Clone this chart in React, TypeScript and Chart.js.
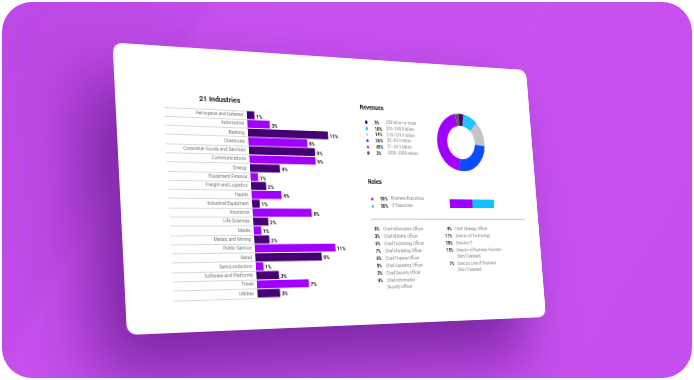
import React, { useEffect, useRef } from "react";
import { Chart, registerables } from "chart.js";
Chart.register(...registerables);

// ---------- data ----------
const industries = [
  "Aerospace and Defense", "Automotive", "Banking", "Chemicals",
  "Consumer Goods and Services", "Communications", "Energy", "Equipment Finance",
  "Freight and Logistics", "Health", "Industrial Equipment", "Insurance",
  "Life Sciences", "Media", "Metals and Mining", "Public Service", "Retail",
  "Semiconductors", "Software and Platforms", "Travel", "Utilities",
];
const industryShares = [1, 3, 11, 8, 9, 9, 4, 1, 2, 4, 1, 8, 2, 1, 2, 11, 9, 1, 3, 7, 3];

const revenueLabels = [
  "$50 billion or more", "$20–$49.9 billion", "$10–$19.9 billion",
  "$5–$9.9 billion", "$1–$4.9 billion", "$250–$999 million",
];
const revenueShares = [3, 10, 14, 26, 45, 3];

const roleLabels = ["Business Executives", "IT Executives"];
const roleShares = [50, 50];

const leftTitles = [
  "Chief Information Officer", "Chief Mobility Officer", "Chief Technology Officer",
  "Chief Marketing Officer", "Chief Finance Officer", "Chief Operating Officer",
  "Chief Security Officer", "Chief Information\nSecurity Officer",
];
const leftTitleShares = [8, 3, 6, 7, 6, 5, 3, 4];
const rightTitles = [
  "Chief Strategy Officer", "Director of Technology", "Director, IT",
  "Director of Business Function\n(Non IT-related)", "Director, Line of Business\n(Non IT-related)",
];
const rightTitleShares = [4, 11, 18, 15, 7];

// ---------- style ----------
const DARK = "#460073";
const BRIGHT = "#a100ff";
const revenueColors = ["#460073", "#1ec3ff", "#c4c4c4", "#0a4dff", "#a100ff", "#5a5a5a"];
const roleColors = ["#a100ff", "#10c0ff"];
const FONT = "Roboto, 'Liberation Sans', sans-serif";

const CARD_W = 520;
const CARD_H = 290;
// card corners (relative to purple panel): TL, TR, BR, BL
const CORNERS: number[][] = [[110.5, 40.5], [524, 68], [544, 315], [125, 333]];

function quadMatrix(W: number, H: number, p: number[][]) {
  const [x0, y0] = p[0], [x1, y1] = p[1], [x2, y2] = p[2], [x3, y3] = p[3];
  const dx1 = x1 - x2, dx2 = x3 - x2, dy1 = y1 - y2, dy2 = y3 - y2;
  const sx = x0 - x1 + x2 - x3, sy = y0 - y1 + y2 - y3;
  const det = dx1 * dy2 - dx2 * dy1;
  const g = (sx * dy2 - dx2 * sy) / det;
  const h = (dx1 * sy - sx * dy1) / det;
  const a = x1 - x0 + g * x1, b = x3 - x0 + h * x3, c = x0;
  const d = y1 - y0 + g * y1, e = y3 - y0 + h * y3, f = y0;
  return `matrix3d(${a / W},${d / W},0,${g / W},${b / H},${e / H},0,${h / H},0,0,1,0,${c},${f},0,1)`;
}

const valueLabelPlugin = {
  id: "valueLabels",
  afterDatasetsDraw(chart: any) {
    const { ctx } = chart;
    const meta = chart.getDatasetMeta(0);
    ctx.save();
    ctx.font = `bold 5.6px ${FONT}`;
    ctx.fillStyle = "#111";
    ctx.textBaseline = "middle";
    meta.data.forEach((bar: any, i: number) => {
      ctx.fillText(chart.data.datasets[0].data[i] + "%", bar.x + 2, bar.y + 1.5);
    });
    ctx.restore();
  },
};

const Txt = (p: { x: number; y: number; s: number; w?: number; c?: string; t: string; align?: any; lh?: number; width?: number }) => (
  <div
    style={{
      position: "absolute",
      left: p.align === "right" ? p.x - (p.width || 20) : p.x,
      top: p.y - (p.lh || p.s * 1.3) / 2,
      width: p.align === "right" ? p.width || 20 : undefined,
      textAlign: p.align || "left",
      fontFamily: FONT,
      fontSize: p.s,
      fontWeight: p.w || 400,
      color: p.c || "#111",
      lineHeight: `${p.lh || p.s * 1.3}px`,
      whiteSpace: "pre",
    }}
  >
    {p.t}
  </div>
);

export default function App() {
  const barRef = useRef<HTMLCanvasElement>(null);
  const donutRef = useRef<HTMLCanvasElement>(null);
  const roleRef = useRef<HTMLCanvasElement>(null);

  useEffect(() => {
    const charts: Chart[] = [];
    charts.push(
      new Chart(barRef.current!, {
        type: "bar",
        data: {
          labels: industries,
          datasets: [
            {
              data: industryShares,
              backgroundColor: industryShares.map((_, i) => (i % 2 === 0 ? DARK : BRIGHT)),
              barPercentage: 0.9,
              categoryPercentage: 1,
              borderWidth: 0,
            },
          ],
        },
        options: {
          indexAxis: "y",
          animation: false,
          responsive: false,
          events: [],
          layout: { padding: { top: 2, bottom: 2, left: 0, right: 0 } },
          plugins: { legend: { display: false }, tooltip: { enabled: false } },
          scales: {
            x: { display: false, min: 0, max: 15 },
            y: {
              afterFit: (s: any) => {
                s.width = 94;
              },
              grid: { drawOnChartArea: false, drawTicks: true, tickLength: 94, color: "#cfcfcf", lineWidth: 0.8, offset: true },
              border: { display: false },
              ticks: { padding: -90, autoSkip: false, font: { size: 5.2, family: FONT }, color: "#777" },
            },
          },
        } as any,
        plugins: [valueLabelPlugin],
      })
    );
    charts.push(
      new Chart(donutRef.current!, {
        type: "doughnut",
        data: {
          labels: revenueLabels,
          datasets: [{ data: revenueShares, backgroundColor: revenueColors, borderWidth: 0 }],
        },
        options: {
          animation: false,
          responsive: false,
          events: [],
          cutout: "58%",
          layout: { padding: 0 },
          plugins: { legend: { display: false }, tooltip: { enabled: false } },
        } as any,
      })
    );
    charts.push(
      new Chart(roleRef.current!, {
        type: "bar",
        data: {
          labels: ["Roles"],
          datasets: roleShares.map((v, i) => ({
            label: roleLabels[i],
            data: [v],
            backgroundColor: roleColors[i],
            barPercentage: 1,
            categoryPercentage: 1,
            borderWidth: 0,
          })),
        },
        options: {
          indexAxis: "y",
          animation: false,
          responsive: false,
          events: [],
          layout: { padding: 0 },
          scales: {
            x: { display: false, stacked: true, min: 0, max: 100 },
            y: { display: false, stacked: true },
          },
          plugins: { legend: { display: false }, tooltip: { enabled: false } },
        } as any,
      })
    );
    return () => charts.forEach((c) => c.destroy());
  }, []);

  const legendTop = 70;
  const legendStep = 6.85;
  let rightY = 187.6;
  const rightRows = rightTitles.map((t, i) => {
    const y = rightY;
    rightY += t.split("\n").length * 7 + 1.06;
    return { t, y, v: rightTitleShares[i] };
  });
  let leftY = 187.3;
  const leftRows = leftTitles.map((t, i) => {
    const y = leftY;
    leftY += t.split("\n").length * 7 + 1.06;
    return { t, y, v: leftTitleShares[i] };
  });

  return (
    <div style={{ position: "fixed", left: 0, top: 0, width: 694, height: 380, background: "#fff", overflow: "hidden" }}>
      <div
        style={{
          position: "absolute",
          left: 2,
          top: 2,
          width: 690,
          height: 376,
          borderRadius: 30,
          overflow: "hidden",
          background:
            "linear-gradient(120deg, #bd48e5 0%, #c14be9 22%, #c750ef 24%, #c851f0 60%, #c54eee 100%)",
        }}
      >
        <div
          style={{
            position: "absolute",
            left: 0,
            top: 0,
            width: CARD_W,
            height: CARD_H,
            background: "#fff",
            borderRadius: 10,
            transformOrigin: "0 0",
            transform: quadMatrix(CARD_W, CARD_H, CORNERS),
            boxShadow: "-34px 40px 70px rgba(60,0,100,0.55)",
          }}
        >
          <Txt x={92} y={53} s={8} w={700} t="21 Industries" />
          <canvas ref={barRef} width={226} height={199} style={{ position: "absolute", left: 52, top: 61 }} />

          <Txt x={285.6} y={54.7} s={7} w={700} t="Revenues" />
          {revenueLabels.map((l, i) => (
            <React.Fragment key={l}>
              <div
                style={{
                  position: "absolute",
                  left: 290.5,
                  top: legendTop + i * legendStep - 1.8,
                  width: 3.6,
                  height: 3.6,
                  borderRadius: "50%",
                  background: revenueColors[i],
                }}
              />
              <Txt x={303} y={legendTop + i * legendStep} s={5} w={700} t={revenueShares[i] + "%"} />
              <Txt x={318} y={legendTop + i * legendStep} s={4.8} c="#888" t={l} />
            </React.Fragment>
          ))}
          <canvas ref={donutRef} width={66} height={66} style={{ position: "absolute", left: 385, top: 55.5 }} />

          <Txt x={289.4} y={137} s={7} w={700} t="Roles" />
          {roleLabels.map((l, i) => (
            <React.Fragment key={l}>
              <div
                style={{
                  position: "absolute",
                  left: 291.5,
                  top: 154.5 + i * 8 - 1.8,
                  width: 3.6,
                  height: 3.6,
                  borderRadius: "50%",
                  background: roleColors[i],
                }}
              />
              <Txt x={304} y={154.5 + i * 8} s={5} w={700} t={roleShares[i] + "%"} />
              <Txt x={318} y={154.5 + i * 8} s={4.8} c="#888" t={l} />
            </React.Fragment>
          ))}
          <canvas ref={roleRef} width={62} height={10} style={{ position: "absolute", left: 396, top: 153.5 }} />

          <div style={{ position: "absolute", left: 290, top: 176, width: 211, height: 0.8, background: "#bdbdbd" }} />

          {leftRows.map((r) => (
            <React.Fragment key={r.t}>
              <Txt x={300} y={r.y} s={5} w={700} align="right" width={14} t={r.v + "%"} lh={7} />
              <Txt x={305} y={r.y} s={4.8} c="#888" t={r.t} lh={7} />
            </React.Fragment>
          ))}
          {rightRows.map((r) => (
            <React.Fragment key={r.t}>
              <Txt x={396} y={r.y} s={5} w={700} align="right" width={14} t={r.v + "%"} lh={7} />
              <Txt x={400.5} y={r.y} s={4.8} c="#888" t={r.t} lh={7} />
            </React.Fragment>
          ))}
        </div>
      </div>
    </div>
  );
}
